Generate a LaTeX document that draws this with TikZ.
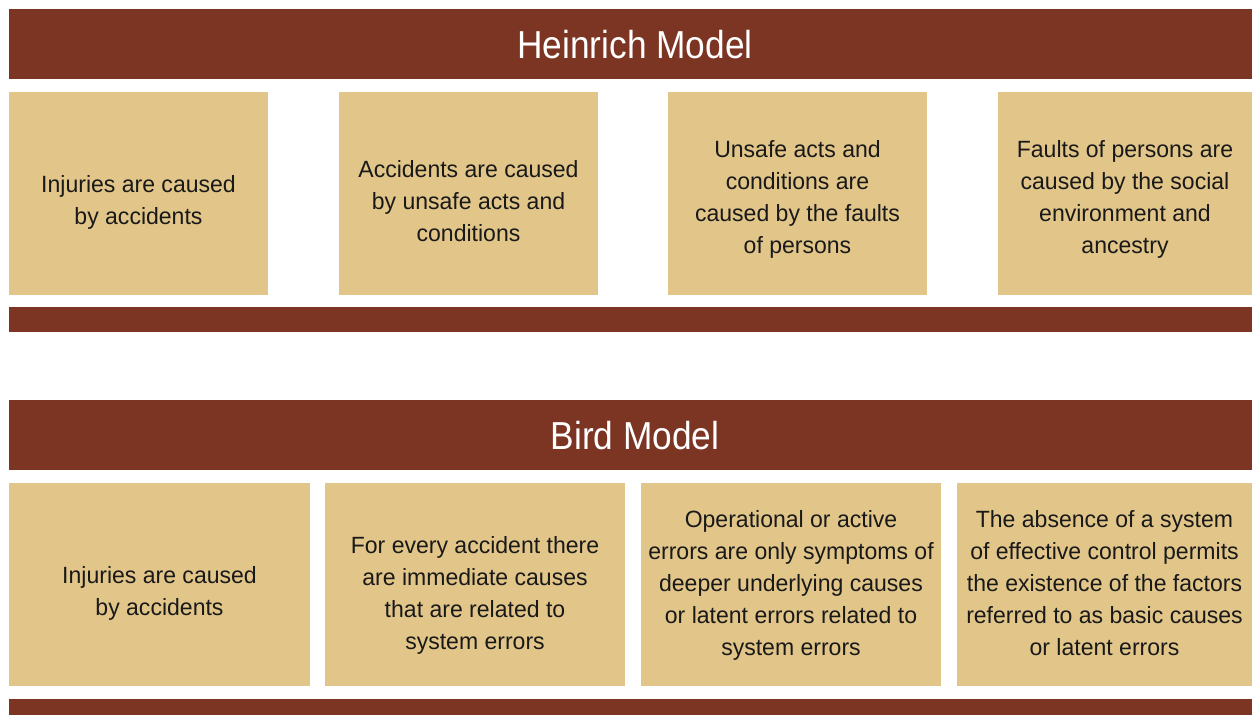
\documentclass[tikz,border=0pt]{standalone}
\usepackage{fontspec}
\setmainfont[FakeStretch=0.98]{Liberation Sans}
\newfontfamily\titlefont[FakeStretch=0.905]{Liberation Sans}
\definecolor{hbrown}{HTML}{7B3522}
\definecolor{htan}{HTML}{E2C689}
\begin{document}
\begin{tikzpicture}[x=1pt,y=-1pt,
  band/.style={fill=hbrown, draw=none, inner sep=0pt, outer sep=0pt},
  title/.style={text=white, inner sep=0pt, font=\titlefont\fontsize{39}{44}\selectfont},
  cell/.style={fill=htan, draw=none, inner sep=0pt, outer sep=0pt},
  txt/.style={text=black!90, inner sep=0pt, align=center, font=\fontsize{23.5}{32}\selectfont}]
\useasboundingbox[fill=white] (0,0) rectangle (1252,715);
% Heinrich
\path[band] (9,9) rectangle (1252,79);
\node[title] (ht) at (635,45) {Heinrich Model};
\node[cell, minimum width=259pt, minimum height=203pt] (h1) at (138.5,193.5) {};
\node[cell, minimum width=259pt, minimum height=203pt] (h2) at (468.5,193.5) {};
\node[cell, minimum width=259pt, minimum height=203pt] (h3) at (797.5,193.5) {};
\node[cell, minimum width=254pt, minimum height=203pt] (h4) at (1125,193.5) {};
\node[txt, yshift=-9pt] (h1t) at (h1.center) {Injuries are caused\\by accidents};
\node[txt, yshift=-8pt] (h2t) at (h2.center) {Accidents are caused\\by unsafe acts and\\conditions};
\node[txt, yshift=-6pt] (h3t) at (h3.center) {Unsafe acts and\\conditions are\\caused by the faults\\of persons};
\node[txt, yshift=-6pt] (h4t) at (h4.center) {Faults of persons are\\caused by the social\\environment and\\ancestry};
\path[band] (9,307) rectangle (1252,332);
% Bird
\path[band] (9,400) rectangle (1252,470);
\node[title] (bt) at (635,436) {Bird Model};
\node[cell, minimum width=301pt, minimum height=203pt] (b1) at (159.5,584.5) {};
\node[cell, minimum width=300pt, minimum height=203pt] (b2) at (475,584.5) {};
\node[cell, minimum width=300pt, minimum height=203pt] (b3) at (791,584.5) {};
\node[cell, minimum width=295pt, minimum height=203pt] (b4) at (1104.5,584.5) {};
\node[txt, yshift=-9pt] (b1t) at (b1.center) {Injuries are caused\\by accidents};
\node[txt, yshift=-11pt] (b2t) at (b2.center) {For every accident there\\are immediate causes\\that are related to\\system errors};
\node[txt, yshift=-1pt] (b3t) at (b3.center) {Operational or active\\errors are only symptoms of\\deeper underlying causes\\or latent errors related to\\system errors};
\node[txt, yshift=1pt] (b4t) at (b4.center) {The absence of a system\\of effective control permits\\the existence of the factors\\referred to as basic causes\\or latent errors};
\path[band] (9,699) rectangle (1252,715);
\end{tikzpicture}
\end{document}
